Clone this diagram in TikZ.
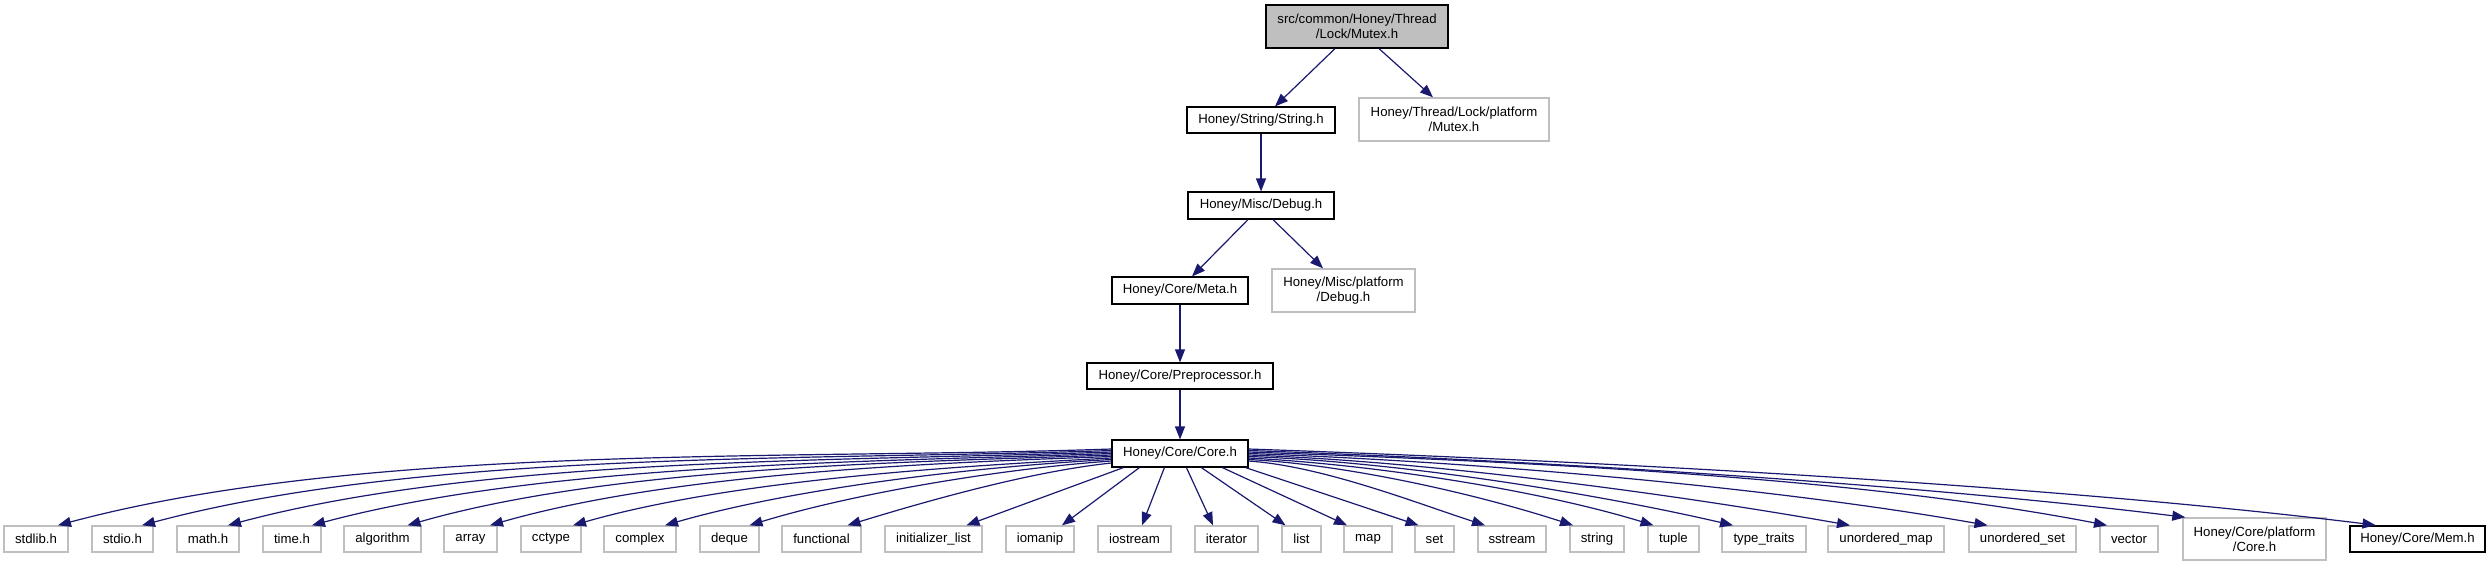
\documentclass[tikz,border=0pt]{standalone}
\usepackage{fontspec}
\setmainfont{Liberation Sans}
\usetikzlibrary{arrows.meta}
\definecolor{edgec}{HTML}{191970}
\definecolor{extc}{HTML}{BFBFBF}
\definecolor{rootc}{HTML}{BFBFBF}
\tikzset{
  basebox/.style={rectangle, inner sep=0pt, align=center, text=black,
    font=\fontsize{13.2}{15.3}\selectfont},
  intbox/.style={basebox, draw=black, line width=1.2pt, fill=white},
  extbox/.style={basebox, draw=extc, line width=1.4pt, fill=white},
  rootbox/.style={basebox, draw=black, line width=1.2pt, fill=rootc},
  membox/.style={basebox, draw=black, line width=1.8pt, fill=white},
  arr/.style={draw=edgec, line width=1.2pt, -{Triangle[length=13pt,width=10pt]}},
}
\begin{document}
\begin{tikzpicture}[x=1pt,y=1pt]
\useasboundingbox (0,0) rectangle (2492,-568);
\fill[white] (0,0) rectangle (2492,-568);

% upper chain
\node[rootbox, minimum width=182pt, minimum height=43pt] (root) at (1357,-26.5) {src/common/Honey/Thread\\/Lock/Mutex.h};
\node[intbox, minimum width=148pt, minimum height=26pt] (strh) at (1261,-120) {Honey/String/String.h};
\node[extbox, minimum width=190pt, minimum height=43pt] (mutexp) at (1454,-119.5) {Honey/Thread/Lock/platform\\/Mutex.h};
\node[intbox, minimum width=146pt, minimum height=27pt] (debug) at (1261,-205.5) {Honey/Misc/Debug.h};
\node[intbox, minimum width=136pt, minimum height=27pt] (meta) at (1180,-290.5) {Honey/Core/Meta.h};
\node[extbox, minimum width=143pt, minimum height=43pt] (debugp) at (1343.5,-290.5) {Honey/Misc/platform\\/Debug.h};
\node[intbox, minimum width=186pt, minimum height=26pt] (pre) at (1180,-376) {Honey/Core/Preprocessor.h};
\node[intbox, minimum width=136pt, minimum height=27pt] (core) at (1180,-453.5) {Honey/Core/Core.h};

% bottom row
\foreach \nm/\cx/\w/\t in {
  stdlib/36/64/stdlib.h, stdio/122.5/61/stdio.h, math/208/62/math.h,
  time/292/58/time.h, algorithm/382.5/77/algorithm, array/470.5/53/array,
  cctype/551/60/cctype, complex/640/72/complex, deque/729.5/59/deque,
  functional/821.5/79/functional, initlist/933.5/97/initializer\_list,
  iomanip/1040/68/iomanip, iostream/1134.5/73/iostream, iterator/1226.5/63/iterator,
  list/1301.5/39/list, map/1368/48/map, set/1434.5/39/set,
  sstream/1512/68/sstream, string/1597/54/string, tuple/1673.5/51/tuple,
  typetraits/1764/84/type\_traits, umap/1886/116/unordered\_map,
  uset/2022.5/107/unordered\_set, vector/2129/58/vector}
  {\node[extbox, minimum width=\w pt, minimum height=26pt] (\nm) at (\cx,-539) {\t};}
\node[extbox, minimum width=143pt, minimum height=42pt] (corep) at (2254.5,-539) {Honey/Core/platform\\/Core.h};
\node[membox, minimum width=135pt, minimum height=26pt] (mem) at (2417.5,-539) {Honey/Core/Mem.h};

% upper edges
\draw[arr] ([xshift=-22pt]root.south) -- ([xshift=14pt]strh.north);
\draw[arr] ([xshift=22pt]root.south) -- ([xshift=-21pt]mutexp.north);
\draw[arr] (strh.south) -- (debug.north);
\draw[arr] ([xshift=-13pt]debug.south) -- ([xshift=12pt]meta.north);
\draw[arr] ([xshift=12pt]debug.south) -- ([xshift=-20.5pt]debugp.north);
\draw[arr] (meta.south) -- (pre.north);
\draw[arr] (pre.south) -- (core.north);

% left side curves
\draw[arr] ([yshift=4.5pt]core.west) .. controls +(-316.8,-11.1) and +(306.2,82.0) .. ([xshift=22pt]stdlib.north);
\draw[arr] ([yshift=3pt]core.west) .. controls +(-291.8,-10.2) and +(282.0,75.6) .. ([xshift=19.5pt]stdio.north);
\draw[arr] ([yshift=1.5pt]core.west) .. controls +(-265.8,-9.3) and +(256.9,68.8) .. ([xshift=20pt]math.north);
\draw[arr] ([yshift=0pt]core.west) .. controls +(-240.9,-8.4) and +(232.8,62.4) .. ([xshift=20pt]time.north);
\draw[arr] ([yshift=-1.5pt]core.west) .. controls +(-211.9,-7.4) and +(203.8,58.4) .. ([xshift=25pt]algorithm.north);
\draw[arr] ([yshift=-3pt]core.west) .. controls +(-187.9,-6.6) and +(180.7,51.8) .. ([xshift=19.5pt]array.north);
\draw[arr] ([yshift=-4.5pt]core.west) .. controls +(-162.8,-8.5) and +(156.7,44.9) .. ([xshift=22pt]cctype.north);
\draw[arr] ([yshift=-6pt]core.west) .. controls +(-135.8,-7.1) and +(130.7,37.5) .. ([xshift=25pt]complex.north);
\draw[arr] ([yshift=-7.5pt]core.west) .. controls +(-109.7,-7.7) and +(105.2,32.2) .. ([xshift=20pt]deque.north);
\draw[arr] ([yshift=-9.5pt]core.west) .. controls +(-81.6,-8.6) and +(78.4,24.0) .. ([xshift=26pt]functional.north);

% middle
\draw[arr] ([xshift=12pt]core.south west) -- ([xshift=33pt]initlist.north);
\draw[arr] ([xshift=28pt]core.south west) -- ([xshift=22pt]iomanip.north);
\draw[arr] ([xshift=53pt]core.south west) -- ([xshift=7.5pt]iostream.north);
\draw[arr] ([xshift=75pt]core.south west) -- ([xshift=-13.5pt]iterator.north);
\draw[arr] ([xshift=90pt]core.south west) -- ([xshift=-16pt]list.north);
\draw[arr] ([xshift=111pt]core.south west) -- ([xshift=-21pt]map.north);
\draw[arr] ([xshift=-3pt]core.south east) -- ([xshift=-16pt]set.north);

% right side curves
\draw[arr] ([yshift=-7.5pt]core.east) .. controls +(73.8,-5.2) and +(-70.4,22.9) .. ([xshift=-27pt]sstream.north);
\draw[arr] ([yshift=-6pt]core.east) .. controls +(99.9,-5.2) and +(-95.1,30.9) .. ([xshift=-24pt]string.north);
\draw[arr] ([yshift=-4.5pt]core.east) .. controls +(122.8,-6.4) and +(-117.6,36.0) .. ([xshift=-20pt]tuple.north);
\draw[arr] ([yshift=-3pt]core.east) .. controls +(146.9,-5.1) and +(-143.2,33.1) .. ([xshift=-31pt]typetraits.north);
\draw[arr] ([yshift=-1.5pt]core.east) .. controls +(181.9,-6.4) and +(-179.2,31.6) .. ([xshift=-36pt]umap.north);
\draw[arr] ([yshift=0pt]core.east) .. controls +(222.9,-7.8) and +(-219.6,38.7) .. ([xshift=-35pt]uset.north);
\draw[arr] ([yshift=1.5pt]core.east) .. controls +(258.8,-9.0) and +(-254.2,49.4) .. ([xshift=-22pt]vector.north);
\draw[arr] ([yshift=3pt]core.east) .. controls +(281.8,-9.8) and +(-279.9,34.4) .. ([xshift=3pt]corep.north west);
\draw[arr] ([yshift=4.5pt]core.east) .. controls +(338.8,-11.8) and +(-336.5,41.3) .. ([xshift=-42pt]mem.north);
\end{tikzpicture}
\end{document}
